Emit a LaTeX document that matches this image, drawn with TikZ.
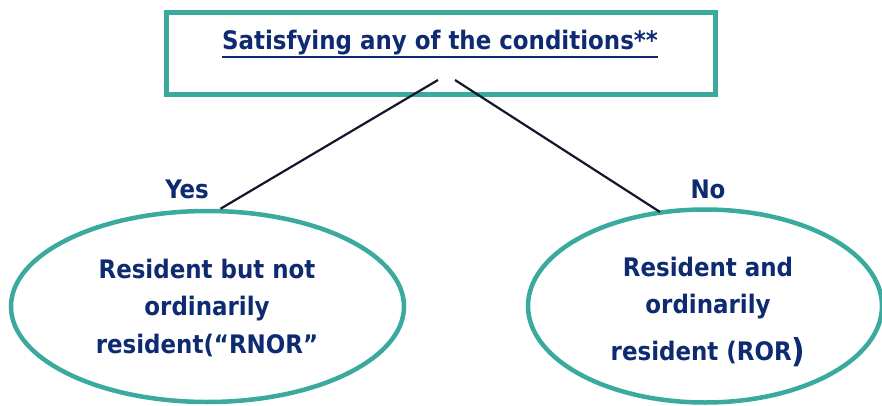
\documentclass[tikz,border=0pt]{standalone}
\usepackage{fontspec}
\setmainfont{DejaVu Sans Condensed}
\usetikzlibrary{shapes.geometric,calc}
\definecolor{navy}{HTML}{0E2B72}
\definecolor{teal}{HTML}{3AAA9E}
\definecolor{linec}{HTML}{15152E}
\tikzset{
  lbl/.style={text=navy, font=\bfseries\fontsize{25.5}{30}\selectfont, inner sep=0pt, anchor=base},
  oval/.style={draw=teal, line width=4.5pt, ellipse, inner sep=0pt},
  conn/.style={draw=linec, line width=2.2pt}
}
\begin{document}
\begin{tikzpicture}[x=1pt,y=-1pt]
\useasboundingbox (0,0) rectangle (882,406);
\node[draw=teal, line width=5pt, minimum width=549pt, minimum height=82pt, inner sep=0pt] (box) at (440.5,53.5) {};
\node[lbl] (title) at (440,50) {Satisfying any of the conditions**};
\draw[navy, line width=2.8pt] ($(title.base west)+(0,7)$) -- ($(title.base east)+(0,7)$);
\node[oval, minimum width=393pt, minimum height=191pt] (L) at (207.5,306.5) {};
\node[oval, minimum width=354pt, minimum height=193pt] (R) at (705,306) {};
\node[lbl] (l1) at (207,278) {Resident but not};
\node[lbl] (l2) at (207,315) {ordinarily};
\node[lbl] (l3) at (207,353) {resident(“RNOR”};
\node[lbl] (r1) at (708,276) {Resident and};
\node[lbl] (r2) at (708,313) {ordinarily};
\node[lbl] (r3) at (708,360) {resident (ROR\raisebox{-2pt}{\fontsize{33}{33}\selectfont)}};
\node[lbl] (yes) at (187,198) {Yes};
\node[lbl] (no) at (708,198) {No};
\coordinate (tl) at (438,80);
\coordinate (tr) at (455,80);
\draw[conn] (tl) -- ($(L.north)+(13,0)$);
\draw[conn] (tr) -- (660,212);
\end{tikzpicture}
\end{document}
